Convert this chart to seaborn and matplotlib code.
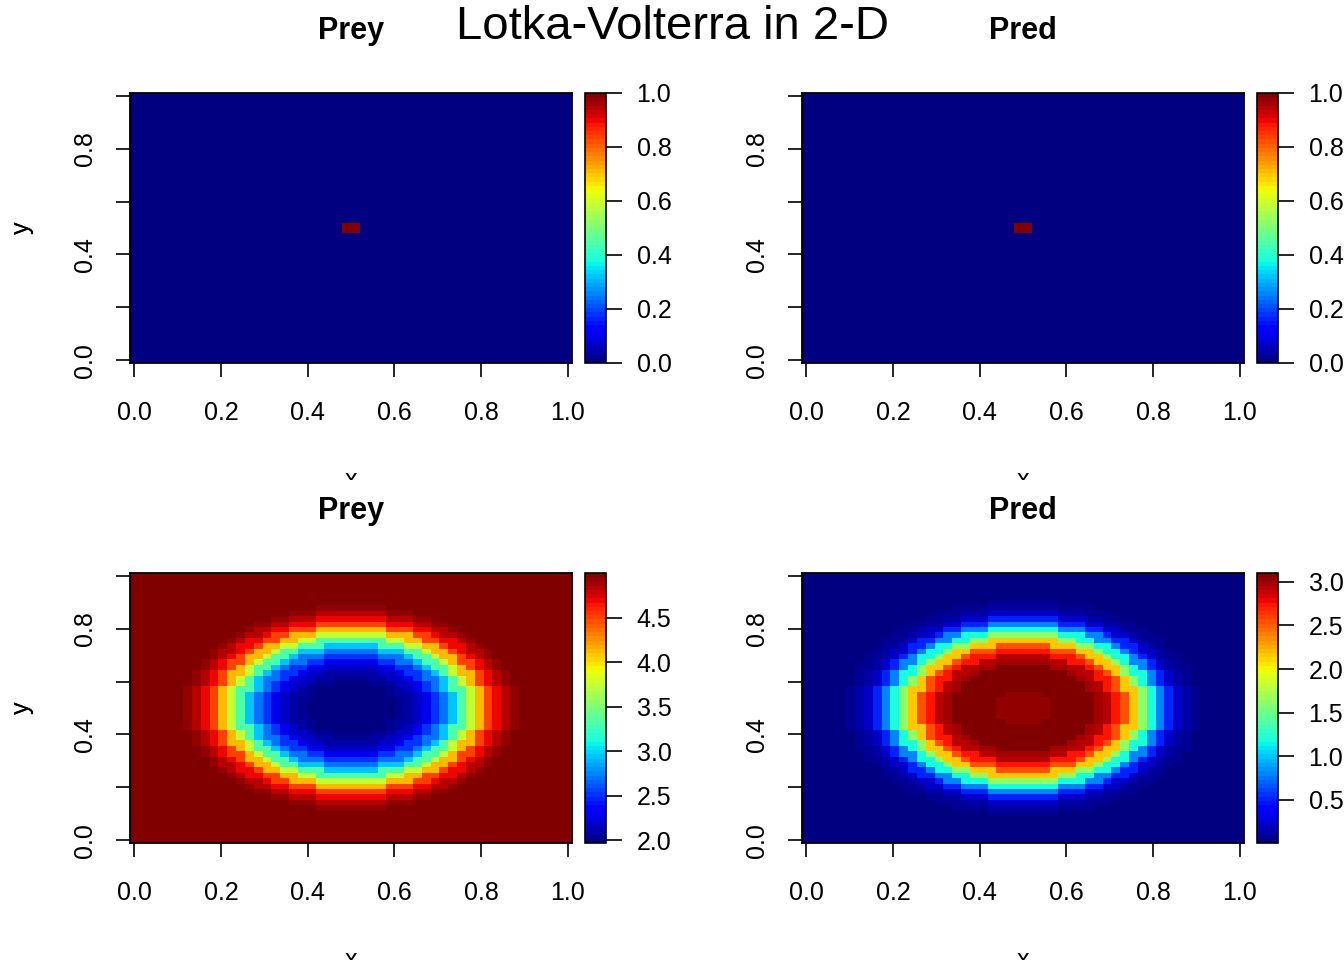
import matplotlib
matplotlib.use('Agg')
import matplotlib.pyplot as plt
import numpy as np
import pandas as pd
import seaborn as sns
from matplotlib.transforms import Bbox, TransformedBbox

# grid size of every field (50 x 50 cells over [0, 1] x [0, 1])
N_CELLS = 50

# radial profiles read along the centre row, one value per cell outward from the centre
prey_profile = [1.97, 1.97, 1.97, 1.97, 1.98, 2.04, 2.07, 2.17, 2.27, 2.50,
                2.69, 2.95, 3.30, 3.73, 4.12, 4.49, 4.70, 4.84, 4.92, 4.97,
                4.97, 4.97, 5.00, 5.00, 5.00]
pred_profile = [3.04, 3.04, 3.04, 3.10, 3.10, 3.10, 3.10, 3.10, 2.99, 2.93,
                2.73, 2.53, 2.15, 1.65, 1.17, 0.82, 0.51, 0.245, 0.14, 0.075,
                0.04, 0.007, 0.007, 0.007, 0.007]
# initial state: zero everywhere, one in the centre 2 x 2 block
init_profile = [1.0, 0.0, 0.0, 0.0, 0.0, 0.0, 0.0, 0.0, 0.0, 0.0,
                0.0, 0.0, 0.0, 0.0, 0.0, 0.0, 0.0, 0.0, 0.0, 0.0,
                0.0, 0.0, 0.0, 0.0, 0.0]

axis_ticks = [0.0, 0.2, 0.4, 0.6, 0.8, 1.0]
init_cbar_ticks = [0.0, 0.2, 0.4, 0.6, 0.8, 1.0]
prey_cbar_ticks = [2.0, 2.5, 3.0, 3.5, 4.0, 4.5]
pred_cbar_ticks = [0.5, 1.0, 1.5, 2.0, 2.5, 3.0]


def field_from_profile(profile, square_centre=False):
    coords = np.linspace(0, 1, N_CELLS)
    gx, gy = np.meshgrid(coords, coords)
    if square_centre:
        # chebyshev ring index -> only the centre block gets profile[0]
        dist = np.maximum(np.abs(gx - 0.5), np.abs(gy - 0.5))
    else:
        dist = np.hypot(gx - 0.5, gy - 0.5)
    idx = np.clip(np.rint(dist * (N_CELLS - 1) - 0.5), 0, len(profile) - 1).astype(int)
    return pd.DataFrame(np.asarray(profile)[idx])


def px_rect(left, top, right, bottom):
    W, H = 1344, 960
    return [left / W, 1 - bottom / H, (right - left) / W, (bottom - top) / H]


def draw_panel(fig, data, title, ox, oy, cbar_ticks):
    ax = fig.add_axes(px_rect(130 + ox, 93 + oy, 572 + ox, 363 + oy))
    cax = fig.add_axes(px_rect(585 + ox, 93 + oy, 606 + ox, 363 + oy))
    sns.heatmap(data, ax=ax, cbar_ax=cax, cmap=plt.get_cmap('jet', 64),
                xticklabels=False, yticklabels=False,
                vmin=float(data.values.min()), vmax=float(data.values.max()))
    ax.set_ylim(0, N_CELLS)
    ax.set_xlim(0, N_CELLS)
    for s in ax.spines.values():
        s.set_visible(True)
        s.set_color('black')
        s.set_linewidth(1.3)
    pos = [t * (N_CELLS - 1) + 0.5 for t in axis_ticks]
    ax.set_xticks(pos)
    ax.set_xticklabels([f'{t:.1f}' for t in axis_ticks])
    ax.set_yticks(pos)
    ax.set_yticklabels([f'{t:.1f}' if i % 2 == 0 else '' for i, t in enumerate(axis_ticks)],
                       rotation=90, va='center')
    ax.tick_params(axis='both', direction='out', length=10, width=1.2, color='black',
                   labelsize=18, labelcolor='black', bottom=True, left=True)
    ax.tick_params(axis='x', pad=17.5)
    ax.tick_params(axis='y', pad=14)
    ax.set_xlabel('')
    ax.set_ylabel('')

    cb = ax.collections[0].colorbar
    cb.outline.set_visible(True)
    cb.outline.set_edgecolor('black')
    cb.outline.set_linewidth(1.2)
    cb.set_ticks(cbar_ticks)
    cb.set_ticklabels([f'{t:.1f}' for t in cbar_ticks])
    cax.tick_params(direction='out', length=11.5, width=1.2, color='black',
                    labelsize=18, labelcolor='black', pad=10.5, right=True)

    W, H = 1344, 960
    fig.text((351 + ox) / W, 1 - (31 + oy) / H, title, ha='center', va='center',
             fontsize=22, fontweight='bold')
    fig.text(22 / W, 1 - (228 + oy) / H, 'y', ha='center', va='center',
             rotation=90, fontsize=18)
    clip = TransformedBbox(Bbox([[0, 0.5 - oy / 960], [1, 1 - oy / 960]]), fig.transFigure)
    t = fig.text((351 + ox) / W, 1 - (468 + oy) / H, 'x', ha='center', va='top', fontsize=18)
    t.set_clip_box(clip)
    t.set_clip_on(True)


sns.set_style('white')
plt.rcParams['font.family'] = ['Liberation Sans', 'DejaVu Sans']
plt.rcParams['text.color'] = 'black'

fig = plt.figure(figsize=(13.44, 9.6), dpi=100)

init_field = field_from_profile(init_profile, square_centre=True)
draw_panel(fig, init_field, 'Prey', 0, 0, init_cbar_ticks)
draw_panel(fig, init_field, 'Pred', 672, 0, init_cbar_ticks)
draw_panel(fig, field_from_profile(prey_profile), 'Prey', 0, 480, prey_cbar_ticks)
draw_panel(fig, field_from_profile(pred_profile), 'Pred', 672, 480, pred_cbar_ticks)

fig.text(0.5, 1 - 27 / 960, 'Lotka-Volterra in 2-D', ha='center', va='center', fontsize=34)

fig.savefig('out.png', dpi=100)
plt.close(fig)
